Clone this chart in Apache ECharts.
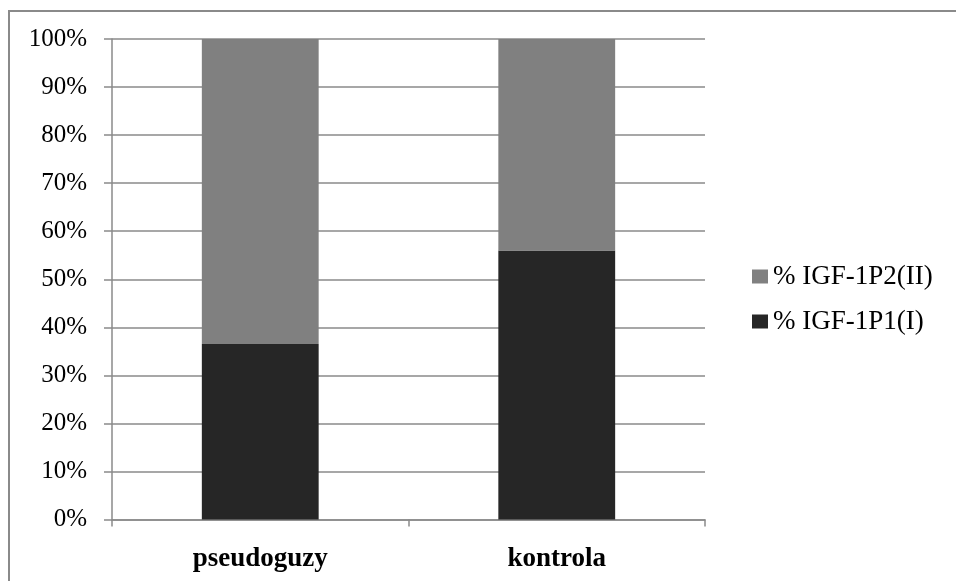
<!DOCTYPE html>
<html>
<head>
<meta charset="utf-8">
<script src="https://cdn.jsdelivr.net/npm/echarts@6/dist/echarts.min.js"></script>
<style>
  html, body { margin: 0; padding: 0; background: #fff; }
  #chart { width: 956px; height: 581px; }
</style>
</head>
<body>
<div id="chart"></div>
<script>
// Share of IGF-1 promoter transcripts per group (percent of total)
const categories = ['pseudoguzy', 'kontrola'];
const p1Values = [36.5, 56.0];   // % IGF-1P1(I)
const p2Values = [63.5, 44.0];   // % IGF-1P2(II)
const seriesNames = ['% IGF-1P2(II)', '% IGF-1P1(I)'];

const serif = 'Liberation Serif, Times New Roman, serif';
const grey = '#8a8a8a';
const chart = echarts.init(document.getElementById('chart'));

chart.setOption({
  animation: false,
  backgroundColor: '#ffffff',
  graphic: [{
    type: 'rect',
    shape: { x: 9, y: 11, width: 1200, height: 1200 },
    style: { fill: 'none', stroke: grey, lineWidth: 2 },
    silent: true
  }],
  grid: { left: 112, right: 251, top: 39, bottom: 61.5 },
  legend: {
    orient: 'vertical',
    left: 747,
    top: 258,
    itemWidth: 16,
    itemHeight: 14,
    itemGap: 18,
    icon: 'rect',
    data: seriesNames,
    textStyle: { fontFamily: serif, fontSize: 27, color: '#000' }
  },
  xAxis: {
    type: 'category',
    data: categories,
    axisLine: { lineStyle: { color: grey, width: 1.5 } },
    axisTick: { show: true, length: 7, lineStyle: { color: grey, width: 1.5 } },
    axisLabel: { fontFamily: serif, fontSize: 27, fontWeight: 'bold', color: '#000', margin: 26 }
  },
  yAxis: {
    type: 'value',
    min: 0,
    max: 100,
    interval: 10,
    axisLine: { show: true, lineStyle: { color: grey, width: 1.5 } },
    axisTick: { show: true, length: 8, lineStyle: { color: grey, width: 1.5 } },
    splitLine: { lineStyle: { color: grey, width: 1.5 } },
    axisLabel: { formatter: '{value}%', fontFamily: serif, fontSize: 25, color: '#000', margin: 25 }
  },
  series: [
    {
      name: '% IGF-1P1(I)',
      type: 'bar',
      stack: 'total',
      barWidth: '39.4%',
      data: p1Values,
      itemStyle: { color: '#262626' }
    },
    {
      name: '% IGF-1P2(II)',
      type: 'bar',
      stack: 'total',
      barWidth: '39.4%',
      data: p2Values,
      itemStyle: { color: '#808080' }
    }
  ]
});
</script>
</body>
</html>
